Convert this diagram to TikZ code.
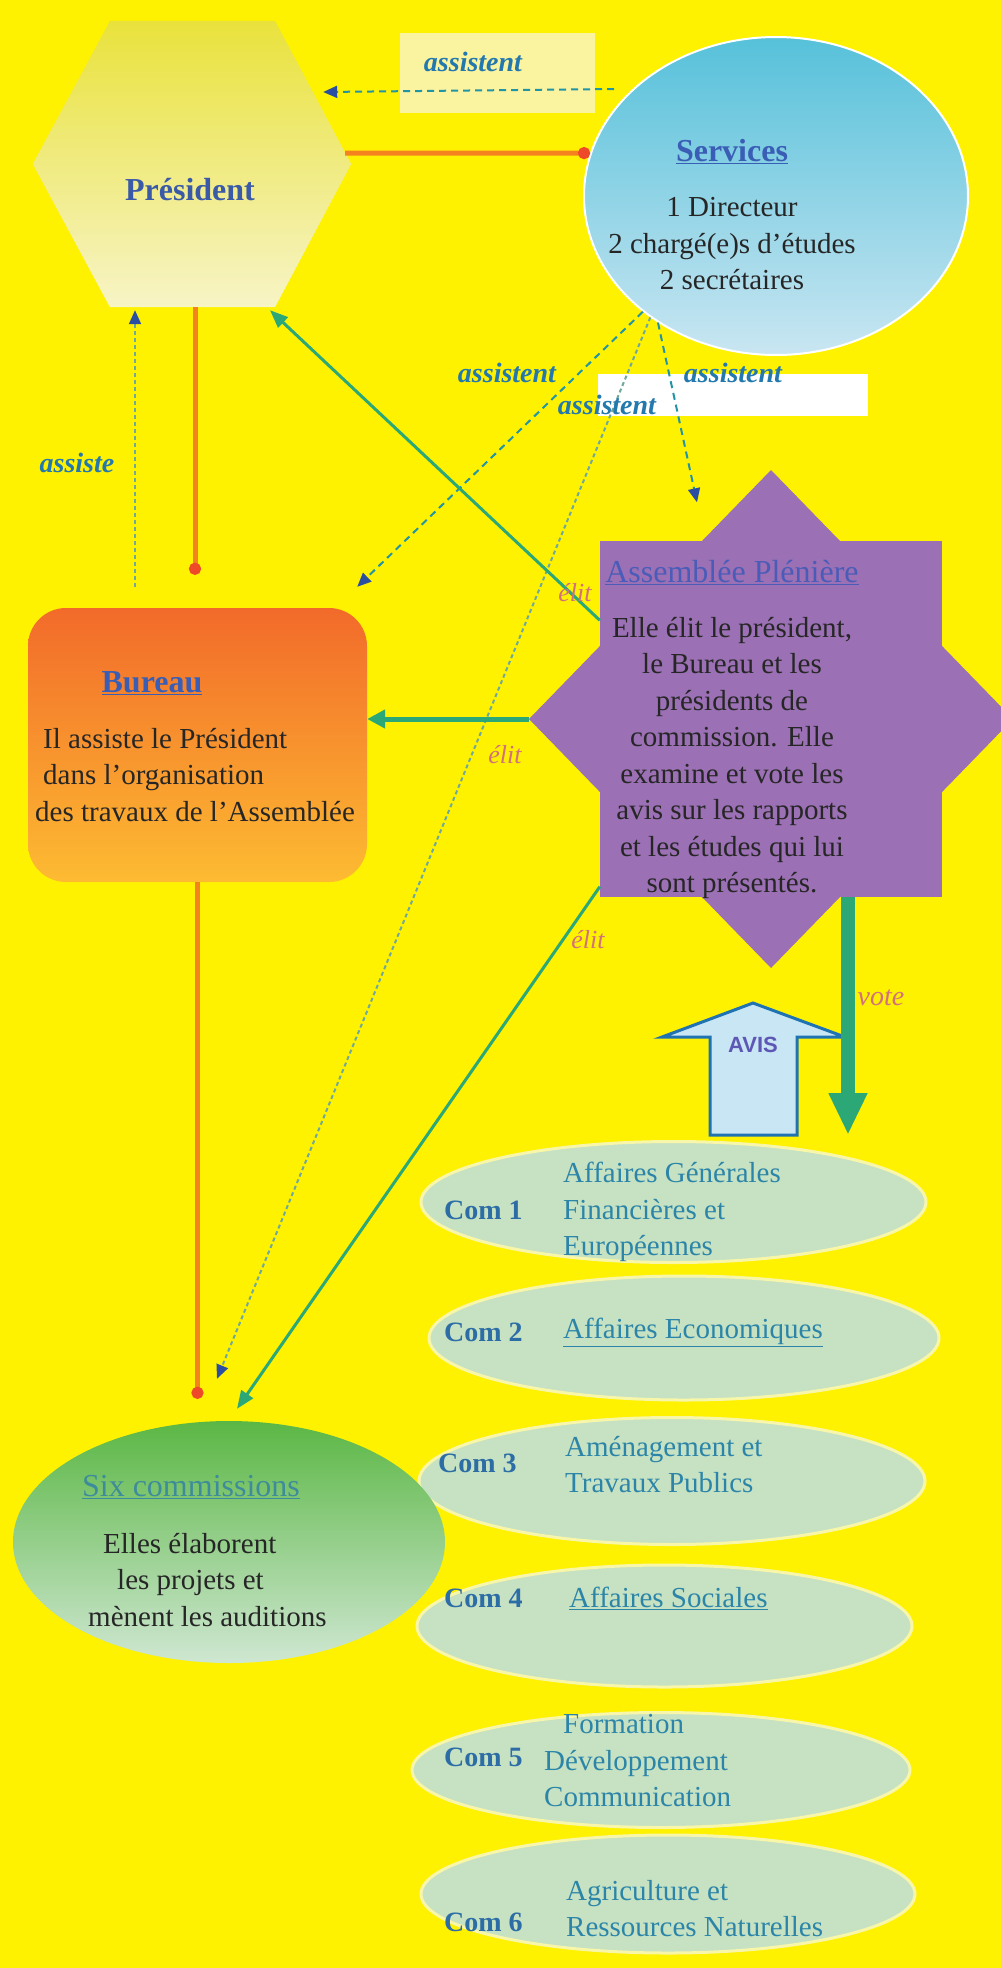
\documentclass[tikz,border=0pt]{standalone}
\usepackage{fontspec}
\setmainfont{Liberation Serif}
\newfontfamily\avisfont{Liberation Sans}
\usetikzlibrary{arrows.meta,shapes.geometric,calc}
\definecolor{bgyel}{HTML}{FFF200}
\definecolor{boxyel}{HTML}{FAF3A0}
\definecolor{hextop}{HTML}{E9E23C}
\definecolor{hexbot}{HTML}{F7F4C6}
\definecolor{servtop}{HTML}{56C1DA}
\definecolor{servbot}{HTML}{C9E6F2}
\definecolor{burtop}{HTML}{F26A2A}
\definecolor{burbot}{HTML}{FDBB32}
\definecolor{purp}{HTML}{9B70B4}
\definecolor{sixtop}{HTML}{5BB744}
\definecolor{sixbot}{HTML}{CFE7D2}
\definecolor{comgreen}{HTML}{C6E2C3}
\definecolor{comedge}{HTML}{F8F6A8}
\definecolor{presblue}{HTML}{3A5AA8}
\definecolor{titleblue}{HTML}{3A5EB5}
\definecolor{titlepurp}{HTML}{4A5CB8}
\definecolor{sixtitle}{HTML}{3E8C9B}
\definecolor{lblblue}{HTML}{2378AE}
\definecolor{elitc}{HTML}{D2707E}
\definecolor{comlabc}{HTML}{2D6DA6}
\definecolor{comtxtc}{HTML}{2C85A8}
\definecolor{dashc}{HTML}{2194A6}
\definecolor{dashlight}{HTML}{6FA89E}
\definecolor{tipblue}{HTML}{2A4EA2}
\definecolor{orangec}{HTML}{F4821F}
\definecolor{dotred}{HTML}{EE4A2A}
\definecolor{greenc}{HTML}{2CA877}
\definecolor{avisfill}{HTML}{C8E6F3}
\definecolor{avisedge}{HTML}{1F73B2}
\definecolor{avistext}{HTML}{5E57B5}
\tikzset{
  body/.style={font=\fontsize{29}{36.5}\selectfont, align=center, text=black!85, inner sep=0pt},
  ttl/.style={font=\fontsize{32}{36}\selectfont\bfseries, inner sep=0pt},
  ttlreg/.style={font=\fontsize{32}{36}\selectfont, inner sep=0pt},
  lbl/.style={font=\fontsize{28}{30}\selectfont\bfseries\itshape, text=lblblue, inner sep=0pt},
  elit/.style={font=\fontsize{26}{28}\selectfont\itshape, text=elitc, inner sep=0pt},
  comell/.style={ellipse, fill=comgreen, draw=comedge, line width=3pt, inner sep=0pt},
  comlab/.style={font=\fontsize{28}{36.5}\selectfont\bfseries, text=comlabc, anchor=west, inner sep=0pt},
  comtxt/.style={font=\fontsize{29}{36.5}\selectfont, text=comtxtc, anchor=west, align=left, inner sep=0pt},
  dashA/.style={draw=dashc, line width=2pt, dash pattern=on 7pt off 5pt, -{Triangle[length=14pt,width=12pt,color=tipblue]}},
  dashB/.style={draw=dashlight, line width=2pt, dash pattern=on 4pt off 3pt, -{Triangle[length=14pt,width=12pt,color=tipblue]}},
  orangeline/.style={draw=orangec, line width=5pt, -{Circle[length=12pt,color=dotred]}},
  greenline/.style={draw=greenc, line width=3pt, -{Triangle[length=18pt,width=14pt]}},
  greenthick/.style={draw=greenc, line width=5pt, -{Triangle[length=18pt,width=18pt]}},
  votearrow/.style={draw=greenc, line width=14pt, -{Triangle[length=42pt,width=36pt]}},
}
\begin{document}
\begin{tikzpicture}[x=1pt,y=-1pt]
\useasboundingbox (0,0) rectangle (1001,1968);
\fill[bgyel] (0,0) rectangle (1001,1968);

% label boxes
\node[fill=boxyel, minimum width=195pt, minimum height=80pt, inner sep=0pt] (box1) at (497.5,73) {};
\node[fill=white, minimum width=270pt, minimum height=42pt, inner sep=0pt] (box2) at (733,395) {};

% President hexagon
\node[minimum width=318pt, minimum height=286pt, inner sep=0pt] (pres) at (192,164) {};
\path[top color=hextop, bottom color=hexbot] (pres.west) -- ([xshift=-82pt]pres.north) -- ([xshift=83pt]pres.north) -- (pres.east) -- ([xshift=83pt]pres.south) -- ([xshift=-82pt]pres.south) -- cycle;

% Services
\node[ellipse, minimum width=384pt, minimum height=318pt, inner sep=0pt, draw=white, line width=2pt, top color=servtop, bottom color=servbot] (services) at (776,196) {};

% Bureau
\node[rectangle, rounded corners=38pt, minimum width=339pt, minimum height=274pt, inner sep=0pt, top color=burtop, bottom color=burbot] (bureau) at (197.5,745) {};

% Assemblee star
\node[minimum width=342pt, minimum height=355pt, inner sep=0pt] (assem) at (771,719) {};
\fill[purp] (assem.north west) rectangle (assem.south east);
\fill[purp] ([yshift=249pt]assem.center) -- ([xshift=242pt]assem.center) -- ([yshift=-249pt]assem.center) -- ([xshift=-242pt]assem.center) -- cycle;

% Commission ellipses
\node[comell, minimum width=505pt, minimum height=121pt] (com1) at (673.5,1202) {};
\node[comell, minimum width=510pt, minimum height=124pt] (com2) at (684,1338) {};
\node[comell, minimum width=506pt, minimum height=127pt] (com3) at (672,1481) {};
\node[comell, minimum width=495pt, minimum height=122pt] (com4) at (664.5,1626) {};
\node[comell, minimum width=498pt, minimum height=115pt] (com5) at (661,1770) {};
\node[comell, minimum width=494pt, minimum height=118pt] (com6) at (668,1894) {};

% Six commissions
\node[ellipse, minimum width=432pt, minimum height=242pt, inner sep=0pt, top color=sixtop, bottom color=sixbot] (six) at (229,1542) {};

% AVIS block arrow
\draw[draw=avisedge, line width=3pt, fill=avisfill, line join=miter] (753,1003) -- (845,1037) -- (797,1037) -- (797,1135) -- (710,1135) -- (710,1037) -- (662,1037) -- cycle;
\node[font=\avisfont\fontsize{22}{24}\selectfont\bfseries, text=avistext, inner sep=0pt] (avis) at (753,1045) {AVIS};

% connectors
\draw[orangeline] ([xshift=-6pt,yshift=11pt]pres.east) -- (services.167);
\draw[orangeline] ([xshift=3pt]pres.south) -- ([xshift=-2.5pt,yshift=33pt]bureau.north);
\draw[orangeline] (bureau.south) -- ([xshift=-31.5pt,yshift=22pt]six.north);

\draw[dashA] ([xshift=31pt,yshift=107pt]services.west) -- ([xshift=-28pt,yshift=72pt]pres.east);
\draw[dashB] ([xshift=-62.5pt,yshift=21pt]bureau.north) -- ([xshift=-57pt,yshift=-3pt]pres.south);
\draw[dashA] (services.221) -- ([xshift=-10pt,yshift=21pt]bureau.north east);
\draw[dashB] (services.224) -- ([xshift=-12pt,yshift=42pt]six.north);
\draw[dashA] (services.227) -- ([xshift=-74pt,yshift=39pt]assem.north);

\draw[greenline] ([yshift=-79pt]assem.north west) -- ([xshift=78pt,yshift=-3pt]pres.south);
\draw[greenthick] ([xshift=-242pt]assem.center) -- ([yshift=26pt]bureau.east);
\draw[greenline] ([yshift=10pt]assem.south west) -- ([xshift=8pt,yshift=12pt]six.north);
\draw[votearrow] ([xshift=77pt]assem.south) -- ([xshift=174.5pt,yshift=5pt]com1.north);

% texts
\node[ttl, text=presblue] (prestxt) at (190,190) {Président};
\node[ttl, text=titleblue] (servtitle) at (732,152) {\underline{Services}};
\node[body] (servbody) at (732,244) {1 Directeur\\2 chargé(e)s d’études\\2 secrétaires};
\node[ttl, text=titleblue] (burtitle) at (152,683) {\underline{Bureau}};
\node[body, align=left, anchor=west] (burbody) at (35,775) {\hspace*{8pt}Il assiste le Président\\\hspace*{8pt}dans l’organisation\\des travaux de l’Assemblée};
\node[ttlreg, text=titlepurp] (asstitle) at (732,573) {\underline{Assemblée Plénière}};
\node[body] (assbody) at (732,758) {Elle élit le président,\\le Bureau et les\\présidents de\\commission. Elle\\examine et vote les\\avis sur les rapports\\et les études qui lui\\sont présentés.};
\node[ttlreg, text=sixtitle] (sixtitle) at (191,1487) {\underline{Six commissions}};
\node[body, align=left, anchor=west] (sixbody) at (88,1580) {\hspace*{15pt}Elles élaborent\\\hspace*{29pt}les projets et\\mènent les auditions};

% labels
\node[lbl] (l1) at (473,62) {assistent};
\node[lbl] (l2) at (77,463) {assiste};
\node[lbl] (l3) at (507,373) {assistent};
\node[lbl] (l4) at (733,373) {assistent};
\node[lbl] (l5) at (607,405) {assistent};
\node[elit] (e1) at (575,593) {élit};
\node[elit] (e2) at (505,755) {élit};
\node[elit] (e3) at (588,940) {élit};
\node[elit, font=\fontsize{28}{30}\selectfont\itshape] (v1) at (881,998) {vote};

% commission texts
\node[comlab] (c1a) at (444,1210) {Com 1};
\node[comtxt] (c1b) at (563,1212) {Affaires Générales\\Financières et\\Européennes};
\node[comlab] (c2a) at (444,1332) {Com 2};
\node[comtxt] (c2b) at (563,1332) {\underline{Affaires Economiques}};
\node[comlab] (c3a) at (438,1463) {Com 3};
\node[comtxt] (c3b) at (565,1464.5) {Aménagement et\\Travaux Publics};
\node[comlab] (c4a) at (444,1598) {Com 4};
\node[comtxt] (c4b) at (569,1598) {\underline{Affaires Sociales}};
\node[comlab] (c5a) at (444,1757) {Com 5};
\node[comtxt] (c5b) at (544,1761) {\hspace*{19pt}Formation\\Développement\\Communication};
\node[comlab] (c6a) at (444,1922) {Com 6};
\node[comtxt] (c6b) at (566,1908.5) {Agriculture et\\Ressources Naturelles};
\end{tikzpicture}
\end{document}
